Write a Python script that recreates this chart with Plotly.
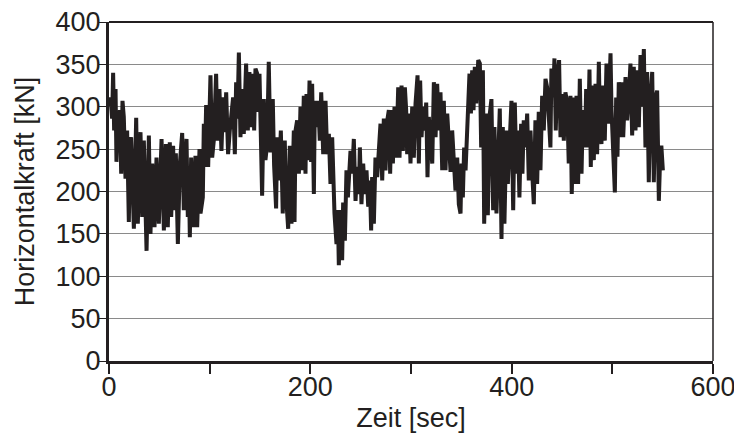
import plotly.graph_objects as go

# Time [sec] and horizontal force [kN]
zeit = [
    0, 1.5, 3.1, 4.1, 5.1, 6.5, 7.4, 8.8, 9.8, 10.8, 12.1, 13.4, 14.7, 16.4, 18, 19.7,
    21, 22, 24.7, 27, 28.6, 31.3, 33, 34.6, 37.3, 39.6, 41.2, 42.9, 45.2, 47.2, 49.5,
    52.2, 54.5, 56.5, 58.4, 60.4, 61.8, 63.7, 65.1, 66.4, 68.4, 70.4, 72.7, 74.3, 77,
    78.3, 79.3, 80.3, 81.6, 83.6, 85.9, 87.6,
    89.9, 90.9, 93.2, 94.2, 95.2, 96.5, 98.5, 100.8, 102.5, 104.1, 106.4, 107.8, 109.7,
    111.7, 113.4, 115, 116.4, 118.3, 120, 121.7, 123.3, 125, 126.3, 127.6, 129, 130.6,
    132.3, 133.9, 136.2, 137.9, 139.5, 141.5, 142.9, 144.2, 145.5, 147.2, 148.2, 149.5,
    150.5, 152.1, 153.8, 155.4, 157.1, 158.7, 160.4, 162.7, 164, 166, 167, 168.7, 170.7,
    172.6, 174.6, 176, 178, 179.6, 181.3, 183.6,
    184.3, 185.3, 186.9, 188.6, 190.2, 191.9, 193.5, 195.2, 196.2, 197.5, 199.2, 200.8,
    201.8, 203.5, 204.5, 206.1, 207.8, 209.4, 210.8, 212.8, 215.1, 216.7, 218.4, 220,
    221.7, 222.7, 224, 226, 227.3, 228.3, 230, 231.6, 232.6, 234.3, 235.9, 237.3, 239.9,
    241.6, 243.2, 244.9, 246.5, 248.2, 249.2, 250.8, 252.5, 254.1, 255.8, 257.5, 259.1,
    260.4, 261.4, 263.1, 264.7, 266.4, 268, 269.7, 271.4, 273, 274.7, 276.3, 278, 279.3,
    280.7, 282, 283.6, 285.3, 287.3, 288.6, 290.6, 291.9, 293.9, 295.2, 296.2, 297.9,
    299.5, 301.2, 302.8, 304.5, 306.5, 307.8, 309.1, 310.5, 311.8, 313.8, 315.1, 316.4,
    317.7, 319.4, 321.1, 322.7, 324.4, 326, 327.7, 329.3, 331, 332.6, 334.3, 336, 337.6,
    339.3, 340.9, 342.6, 344.2, 345.9, 347.5, 349.2, 350.2, 351.5, 352.8, 354.2, 355.5,
    356.8, 358.1, 359.5, 360.8, 362.1, 363.4, 364.8, 366.8, 368.4, 369.7, 371.4, 372.7,
    375, 376.3, 378.3, 379.9, 381.6, 382.9, 384.9, 386.2, 388.2, 389.9, 391.2, 392.8,
    394.8, 396.2, 398.1, 399.8, 401.5, 403.1, 404.8, 406.1, 407.7, 409.4, 410.7, 412,
    413.7, 415.4, 417, 418.7, 420.3, 422, 423.6, 425.3, 426.9, 428.6, 430.3, 431.9,
    433.6, 435.2, 436.9, 438.5, 439.5, 441.2, 442.5, 443.8, 445.2, 447.1, 448.5, 450.1,
    451.8, 453.4, 455.1, 456.7, 458.4, 459.7, 461.7, 463.4,
    464.4, 466, 467.7, 469.4, 470.7, 472.7, 474, 475.7, 477.3, 478.6, 480, 481.6, 483.3,
    484.9, 486.6, 487.9, 489.2, 490.6, 492.5, 494.2, 495.8, 498.2, 499.2, 500.8, 502.5,
    503.8, 505.1, 506.4, 508.1, 509.1, 510.8, 513.1, 514.7, 516.4, 518, 519.7, 521.3,
    523, 524.7, 526.3, 528, 529.6, 531.3, 532.9, 534.6, 536.2, 537.9, 539.6, 541.2,
    542.9, 544.5, 546.2, 547.8, 548.8, 550.2,
]

kraft = [
    300, 311, 286, 340, 272, 321, 235, 292, 272, 296, 221, 307, 288, 215, 272, 164,
    260, 264, 156, 287, 162, 270, 170, 260, 130, 266, 150, 233, 158, 240, 162,
    262, 154, 256, 158, 258, 170, 254, 178, 245, 138, 233, 269, 178, 262,
    170, 225, 146, 240, 158, 242, 158,
    250, 174, 193, 280, 229, 302, 229, 337, 240, 260, 339, 260, 321,
    248, 311, 270, 317, 244, 272, 288, 311, 244, 329, 286, 364, 264,
    321, 268, 351, 272, 341, 276, 339, 272, 345, 339, 294, 339,
    260, 195, 309, 237, 256, 353, 246, 309, 231, 180, 264, 213, 272,
    174, 260, 193, 156, 254, 162, 272,
    164, 272, 284, 221, 300, 225, 313, 221, 315, 237, 331, 235,
    327, 197, 307, 276, 307, 260, 317, 244, 307, 244, 268, 209,
    264, 205, 174, 138, 178, 113, 178, 119, 187, 142, 225, 193, 248,
    221, 262, 189, 229, 197, 252, 185, 233, 197, 225, 182, 213,
    154, 217, 162, 240, 217, 256, 280, 213, 286, 225, 283, 296, 221,
    296, 233, 300, 240, 323, 240, 325, 248, 323, 296, 244, 292,
    233, 300, 240, 304, 337, 233, 331, 264, 300, 272, 305, 217,
    288, 264, 233, 329, 264, 327, 272, 317, 225, 307, 225, 292, 260,
    223, 272, 240, 201, 240, 185, 174, 233, 193, 252, 225, 272,
    296, 339, 292, 343, 296, 347, 304, 355, 351, 252, 343, 162,
    292, 172, 292, 309, 178, 276, 174, 233, 298, 144, 276, 162,
    272, 209, 268, 307, 178, 305, 221, 272, 193, 280, 221, 284,
    252, 292, 213, 272, 225, 185, 284, 209, 294, 225, 313, 272,
    333, 323, 288, 252, 345, 311, 357, 272, 331, 355, 264, 315,
    260, 317, 305, 233, 313, 197, 311, 209,
    313, 209, 333, 221, 296, 252, 321, 252, 344, 229, 325, 237, 327,
    244, 353, 268, 256, 325, 260, 351, 280, 363, 296, 248, 199,
    311, 241, 329, 264, 329, 264, 335, 284, 313, 351, 266, 347,
    272, 343, 276, 361, 300, 368, 252, 341, 211, 311, 341, 211,
    311, 319, 189, 252, 252, 225,
]

x_tickvals = [0, 100, 200, 300, 400, 500, 600]
x_ticktext = ["0", "", "200", "", "400", "", "600"]
y_tickvals = [0, 50, 100, 150, 200, 250, 300, 350, 400]

ink = "#231f20"
font_family = "Liberation Sans, Arial, sans-serif"
fs = 27

fig = go.Figure()
fig.add_trace(go.Scatter(
    x=zeit, y=kraft, mode="lines",
    line=dict(color=ink, width=4),
    hoverinfo="skip", showlegend=False,
))

# The page body keeps an 8px margin, so the figure is sized to fit the window
fig.update_layout(
    width=734, height=425,
    margin=dict(l=101, r=29, t=14, b=72),
    paper_bgcolor="white", plot_bgcolor="white",
    font=dict(family=font_family, size=fs, color=ink),
    showlegend=False,
    xaxis=dict(
        range=[0, 600], tickmode="array", tickvals=x_tickvals, ticktext=x_ticktext,
        automargin=False,
        showgrid=False, zeroline=False,
        showline=True, linecolor=ink, linewidth=3,
        ticks="outside", ticklen=10, tickwidth=1.5, tickcolor=ink,
        tickfont=dict(size=fs, color=ink),
        ticklabelstandoff=-10, ticklabeloverflow="allow",
        title=dict(text="Zeit [sec]", font=dict(size=fs, color=ink), standoff=7),
    ),
    yaxis=dict(
        range=[0, 400], tickmode="array", tickvals=y_tickvals,
        automargin=False,
        showgrid=True, gridcolor="#8a8a8a", gridwidth=1.2,
        zeroline=False,
        showline=True, linecolor=ink, linewidth=3,
        ticks="outside", ticklen=8, tickwidth=1.2, tickcolor=ink,
        tickfont=dict(size=fs, color=ink),
        ticklabelstandoff=-8, ticklabeloverflow="allow",
        title=dict(text="Horizontalkraft [kN]", font=dict(size=fs, color=ink), standoff=14),
    ),
    shapes=[
        dict(type="line", xref="paper", yref="paper", x0=0, x1=1, y0=1, y1=1,
             line=dict(color=ink, width=2)),
        dict(type="line", xref="paper", yref="paper", x0=1, x1=1, y0=0, y1=1,
             line=dict(color=ink, width=1.5)),
    ],
)

fig.write_html("out.html")
